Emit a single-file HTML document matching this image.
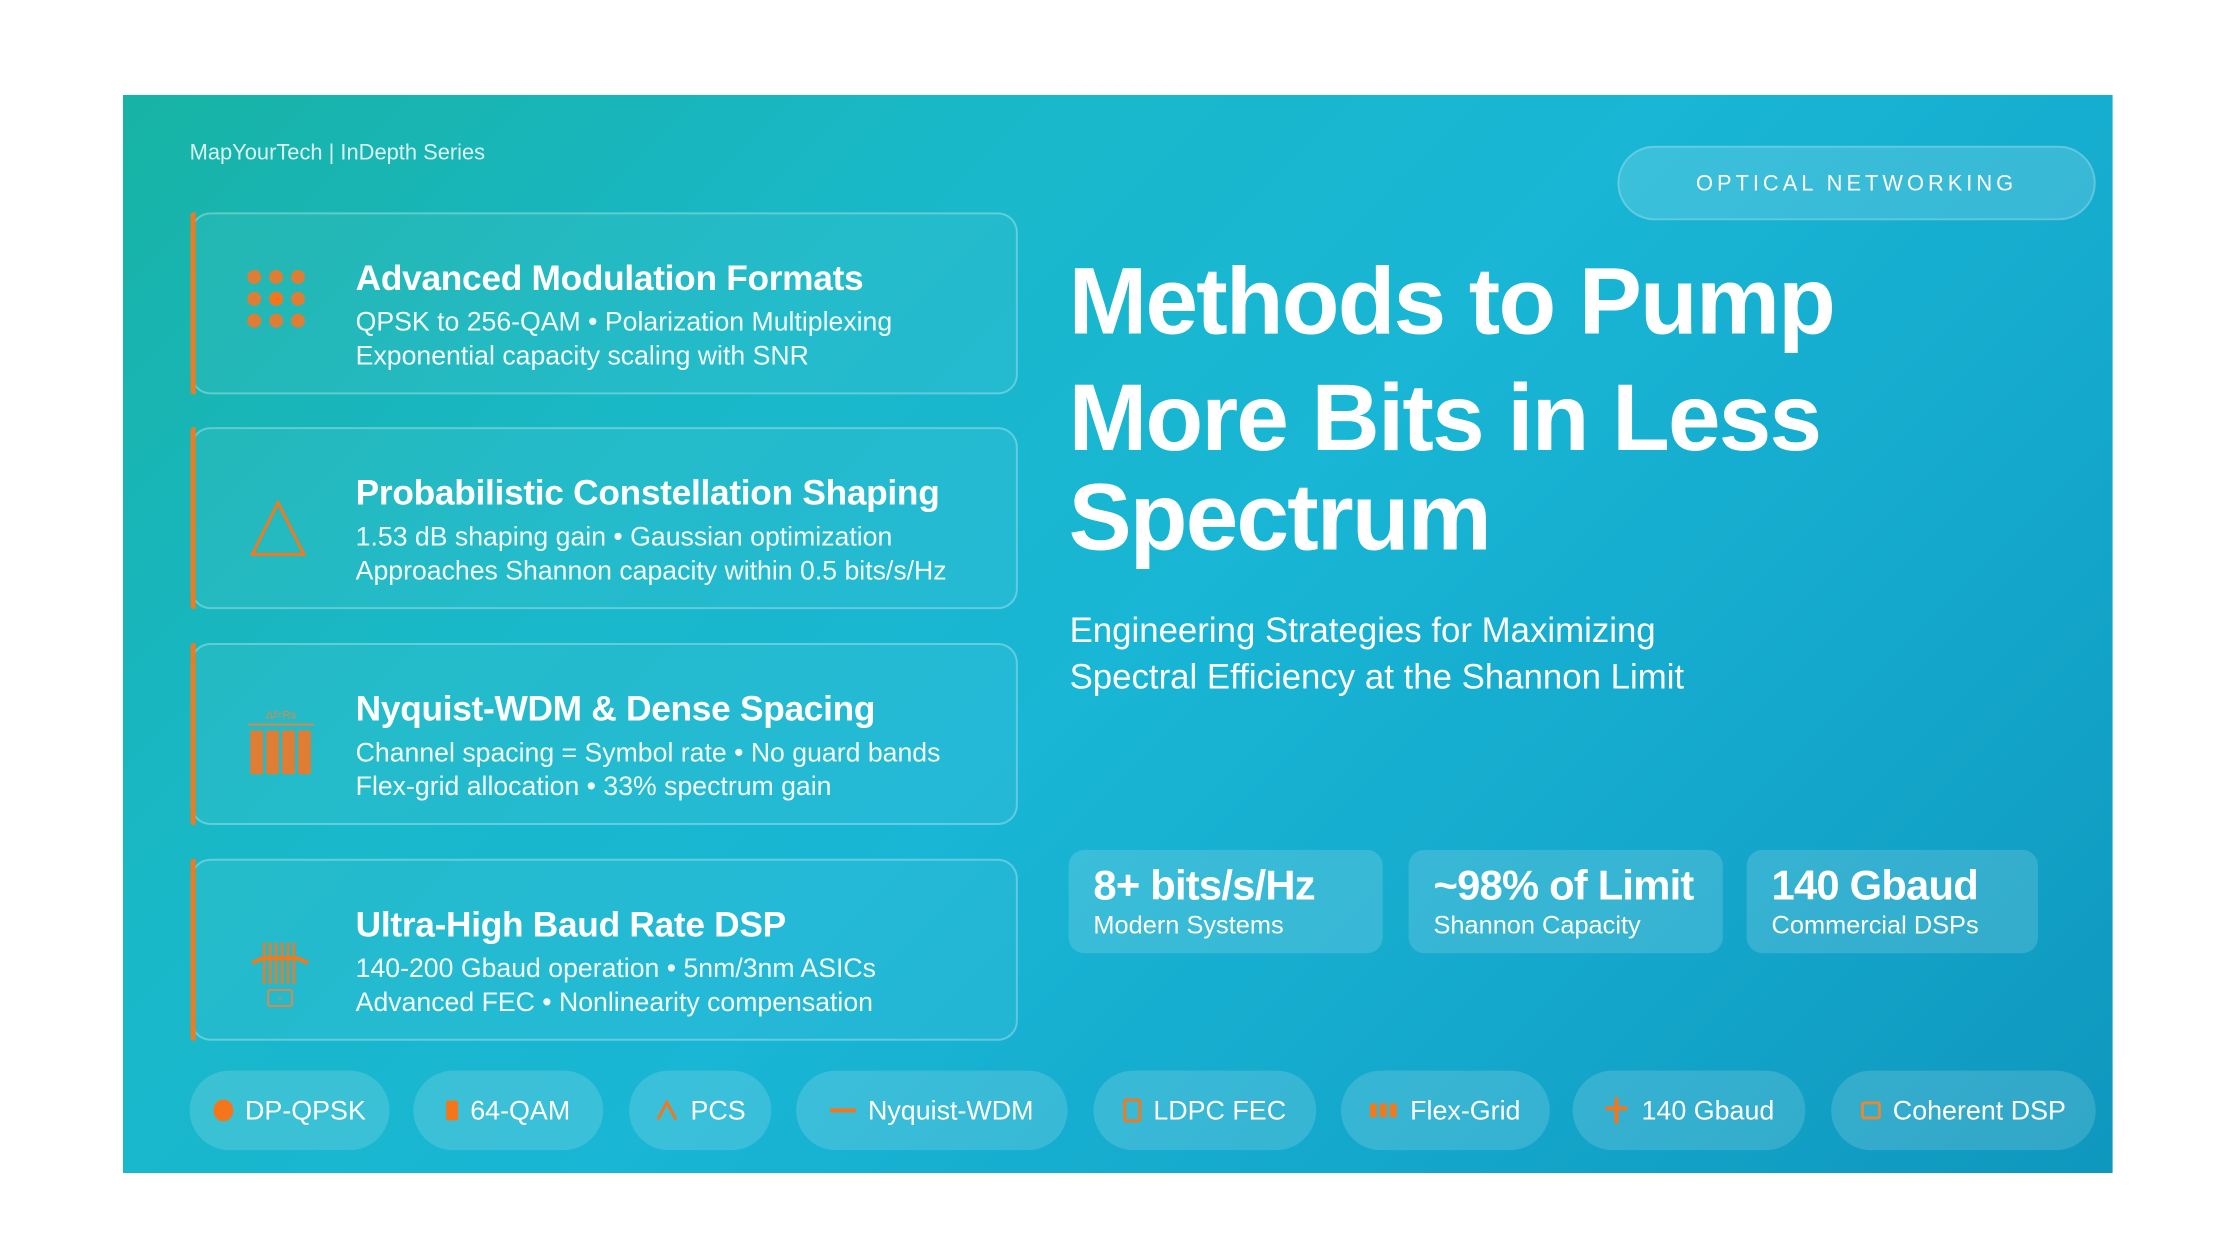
<!DOCTYPE html>
<html><head><meta charset="utf-8">
<style>
*{margin:0;padding:0;box-sizing:border-box}
body{width:2240px;height:1260px;background:#fff;position:relative;overflow:hidden;font-family:"Liberation Sans",sans-serif;color:#fff}
#panel{position:absolute;left:123px;top:95px;width:2001px;height:1084px;background:linear-gradient(135deg,#17b3a5 0%,#19b8c8 28%,#19b6d5 50%,#14a8cc 75%,#0f97be 100%);overflow:hidden;transform:scale(0.9943,0.9945);transform-origin:0 0}
.abs{position:absolute}
.brand{left:67px;top:45px;font-size:22px;color:rgba(255,255,255,0.85)}
.card{position:absolute;left:68px;width:832px;height:183px;border:2px solid rgba(255,255,255,0.28);border-radius:20px;background:rgba(255,255,255,0.05)}
.card:before{content:"";position:absolute;left:-2px;top:-2px;bottom:-2px;width:5px;background:#f07a1e;border-radius:3px 0 0 3px}
.card h3{position:absolute;left:164px;top:44px;font-size:35.5px;font-weight:bold;letter-spacing:-0.3px;white-space:nowrap}
.card p{position:absolute;left:164px;font-size:26.8px;white-space:nowrap;color:rgba(255,255,255,0.95)}
.card .l1{top:93px}.card .l2{top:127px}
.card svg{position:absolute;left:54px;top:55px}
.title{left:951px;font-size:95px;font-weight:bold;letter-spacing:-1.8px;white-space:nowrap;line-height:110px}
.sub{left:952px;top:515px;font-size:35px;line-height:47px;white-space:nowrap}
.badge{left:1503px;top:51px;width:481px;height:75px;border-radius:38px;background:rgba(255,255,255,0.15);border:2px solid rgba(255,255,255,0.2);text-align:center;line-height:71px;font-size:22px;letter-spacing:4px}
.stat{position:absolute;top:759px;height:104px;border-radius:16px;background:rgba(255,255,255,0.15)}
.stat b{position:absolute;left:25px;top:12px;font-size:42px;letter-spacing:-0.8px;white-space:nowrap}
.stat span{position:absolute;left:25px;top:62px;font-size:25.5px;white-space:nowrap}
.pill{position:absolute;top:981px;height:80px;border-radius:40px;background:rgba(255,255,255,0.15);display:flex;align-items:center;justify-content:center;font-size:27px;white-space:nowrap;gap:12px}
.pill i{display:inline-block}
</style></head><body>
<div id="panel">
<div class="abs brand">MapYourTech | InDepth Series</div>

<div class="card" style="top:118px">
<svg width="60" height="60" viewBox="0 0 60 60"><g fill="#e07d35"><circle cx="8" cy="8" r="7"/><circle cx="30" cy="8" r="7"/><circle cx="52" cy="8" r="7"/><circle cx="8" cy="30" r="7"/><circle cx="30" cy="30" r="7" fill="#f5761a"/><circle cx="52" cy="30" r="7"/><circle cx="8" cy="52" r="7"/><circle cx="30" cy="52" r="7"/><circle cx="52" cy="52" r="7"/></g></svg>
<h3>Advanced Modulation Formats</h3>
<p class="l1">QPSK to 256-QAM • Polarization Multiplexing</p>
<p class="l2">Exponential capacity scaling with SNR</p>
</div>

<div class="card" style="top:334px">
<svg width="64" height="64" viewBox="0 0 64 64" style="top:70px"><path d="M32 4 L58 56 L6 56 Z" fill="none" stroke="#f07a1e" stroke-width="3"/></svg>
<h3>Probabilistic Constellation Shaping</h3>
<p class="l1">1.53 dB shaping gain • Gaussian optimization</p>
<p class="l2">Approaches Shannon capacity within 0.5 bits/s/Hz</p>
</div>

<div class="card" style="top:551px">
<svg width="70" height="80" viewBox="0 0 70 80" style="top:62px"><text x="35" y="12" font-size="11" fill="#d98a4a" text-anchor="middle" font-family="Liberation Sans">Δf=Rs</text><rect x="2" y="17" width="66" height="2" fill="#d98a4a"/><g fill="#e07d35"><rect x="4" y="24" width="13" height="44" rx="2"/><rect x="20" y="24" width="13" height="44" rx="2"/><rect x="36" y="24" width="13" height="44" rx="2"/><rect x="52" y="24" width="13" height="44" rx="2"/></g></svg>
<h3>Nyquist-WDM &amp; Dense Spacing</h3>
<p class="l1">Channel spacing = Symbol rate • No guard bands</p>
<p class="l2">Flex-grid allocation • 33% spectrum gain</p>
</div>

<div class="card" style="top:768px">
<svg width="70" height="80" viewBox="0 0 70 80" style="top:78px;left:58px"><g stroke="#f07a1e" stroke-width="2.5"><line x1="14" y1="4" x2="14" y2="46"/><line x1="20" y1="4" x2="20" y2="46"/><line x1="26" y1="4" x2="26" y2="46"/><line x1="32" y1="4" x2="32" y2="46"/><line x1="38" y1="4" x2="38" y2="46"/><line x1="44" y1="4" x2="44" y2="46"/></g><path d="M2 25 L12 20 L48 20 L58 25" stroke="#f07a1e" stroke-width="4" fill="none"/><rect x="18" y="52" width="24" height="16" rx="2" fill="none" stroke="#d98a4a" stroke-width="2"/><text x="30" y="64" font-size="10" fill="#d98a4a" text-anchor="middle">+</text></svg>
<h3>Ultra-High Baud Rate DSP</h3>
<p class="l1">140-200 Gbaud operation • 5nm/3nm ASICs</p>
<p class="l2">Advanced FEC • Nonlinearity compensation</p>
</div>

<div class="abs badge">OPTICAL NETWORKING</div>
<div class="abs title" style="top:153px">Methods to Pump</div>
<div class="abs title" style="top:270px">More Bits in Less</div>
<div class="abs title" style="top:370px">Spectrum</div>
<div class="abs sub">Engineering Strategies for Maximizing<br>Spectral Efficiency at the Shannon Limit</div>

<div class="stat" style="left:951px;width:316px"><b>8+ bits/s/Hz</b><span>Modern Systems</span></div>
<div class="stat" style="left:1293px;width:316px"><b>~98% of Limit</b><span>Shannon Capacity</span></div>
<div class="stat" style="left:1633px;width:293px"><b>140 Gbaud</b><span>Commercial DSPs</span></div>

<div class="pill" style="left:67px;width:201px"><i style="width:20px;height:22px;border-radius:50%;background:#f5761a"></i>DP-QPSK</div>
<div class="pill" style="left:292px;width:191px"><i style="width:12px;height:20px;background:#f5761a;border-radius:2px"></i>64-QAM</div>
<div class="pill" style="left:509px;width:143px"><svg width="24" height="22"><path d="M3 20 L12 3 L21 20" stroke="#f5761a" stroke-width="3" fill="none"/></svg>PCS</div>
<div class="pill" style="left:677px;width:273px"><i style="width:26px;height:4px;background:#f5761a"></i>Nyquist-WDM</div>
<div class="pill" style="left:976px;width:224px"><i style="width:18px;height:24px;border:3px solid #f07a1e;border-radius:3px"></i>LDPC FEC</div>
<div class="pill" style="left:1225px;width:210px"><svg width="28" height="14"><g fill="#f07a1e"><rect x="0" y="0" width="7" height="14"/><rect x="10" y="0" width="7" height="14"/><rect x="20" y="0" width="7" height="14"/></g></svg>Flex-Grid</div>
<div class="pill" style="left:1458px;width:234px"><svg width="26" height="30"><path d="M2 13 L24 13 M13 2 L13 28" stroke="#f5761a" stroke-width="4"/></svg>140 Gbaud</div>
<div class="pill" style="left:1718px;width:266px"><i style="width:20px;height:18px;border:3px solid #e08a3a;border-radius:3px"></i>Coherent DSP</div>
</div>
</body></html>
